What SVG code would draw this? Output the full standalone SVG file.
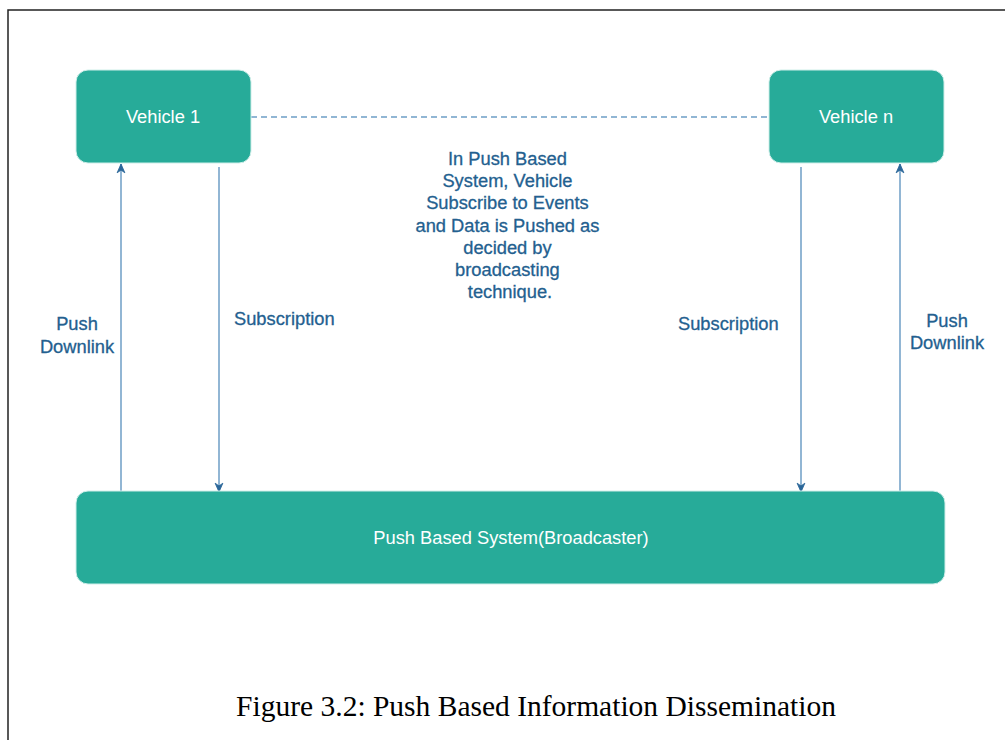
<svg xmlns="http://www.w3.org/2000/svg" width="1005" height="740" viewBox="0 0 1005 740">
<style>
.box{fill:#27ab99;stroke:#cfeee9;stroke-width:1}
.wt{fill:#ffffff;font-family:"Liberation Sans",Arial,sans-serif;font-size:18.3px;text-anchor:middle}
.lbl{fill:#23608f;stroke:#23608f;stroke-width:0.3;font-family:"Liberation Sans",Arial,sans-serif;font-size:18.3px}
.ln{stroke:#6e9ec6;stroke-width:1.5;fill:none}
</style>
<defs>
<marker id="ah" viewBox="0 0 10 10" refX="9" refY="5" markerWidth="11" markerHeight="11" orient="auto" markerUnits="userSpaceOnUse">
<path d="M1,1.5 L9,5 L1,8.5 L3.5,5 Z" fill="#2a6699" stroke="#2a6699" stroke-width="0.8" stroke-linejoin="round"/>
</marker>
</defs>
<rect width="1005" height="740" fill="#ffffff"/>
<path d="M8,740 L8,10 L1005,10" fill="none" stroke="#222" stroke-width="1.5"/>
<g id="connectors">
<line class="ln" x1="251" y1="117" x2="769" y2="117" stroke-dasharray="6,4"/>
<line class="ln" x1="121" y1="491" x2="121" y2="164" marker-end="url(#ah)"/>
<line class="ln" x1="219" y1="167" x2="219" y2="492" marker-end="url(#ah)"/>
<line class="ln" x1="801" y1="167" x2="801" y2="492" marker-end="url(#ah)"/>
<line class="ln" x1="900" y1="491" x2="900" y2="164" marker-end="url(#ah)"/>
</g>
<g id="vehicle1">
<rect class="box" x="76" y="70" width="175" height="93" rx="12"/>
<text class="wt" x="163" y="123">Vehicle 1</text>
</g>
<g id="vehiclen">
<rect class="box" x="769" y="70" width="175" height="93" rx="12"/>
<text class="wt" x="856" y="123">Vehicle n</text>
</g>
<g id="broadcaster">
<rect class="box" x="76" y="491" width="869" height="93" rx="12"/>
<text class="wt" x="511" y="544">Push Based System(Broadcaster)</text>
</g>
<g id="note">
<text class="lbl" text-anchor="middle">
<tspan x="510" y="165">In Push Based</tspan>
<tspan x="510" y="187">System, Vehicle</tspan>
<tspan x="510" y="209">Subscribe to Events</tspan>
<tspan x="510" y="232">and Data is Pushed as</tspan>
<tspan x="510" y="254">decided by</tspan>
<tspan x="510" y="276">broadcasting</tspan>
<tspan x="510" y="298">technique.</tspan>
</text>
</g>
<g id="labels">
<text class="lbl" text-anchor="middle"><tspan x="77" y="330">Push</tspan><tspan x="77" y="353">Downlink</tspan></text>
<text class="lbl" x="234" y="325">Subscription</text>
<text class="lbl" x="678" y="330">Subscription</text>
<text class="lbl" text-anchor="middle"><tspan x="947" y="327">Push</tspan><tspan x="947" y="349">Downlink</tspan></text>
</g>
<text x="536" y="716" font-family="'Liberation Serif','Times New Roman',serif" font-size="29.5" fill="#000" text-anchor="middle">Figure 3.2: Push Based Information Dissemination</text>
</svg>
